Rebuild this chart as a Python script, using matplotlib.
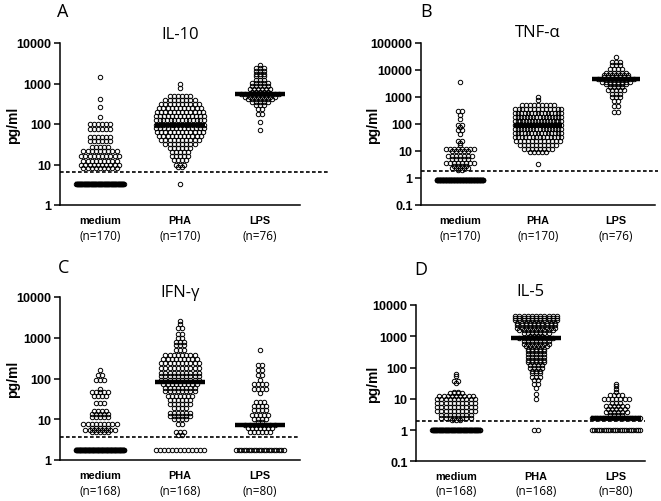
import numpy as np
import matplotlib.pyplot as plt
from matplotlib.ticker import FixedLocator, NullLocator, FuncFormatter

groups = ["medium", "PHA", "LPS"]

# each group: dot rows read off the swarm (pg/ml) and number of dots on that row
# --- A: IL-10
il10_med_vals = [1450, 415, 265, 150, 100, 75, 48, 38, 27, 21, 16, 12, 9.5, 8, 3.3]
il10_med_cnts = [1, 1, 1, 1, 6, 6, 6, 6, 5, 9, 10, 9, 10, 9, 90]
il10_pha_vals = [1000, 770, 500, 400, 320, 250, 200, 160, 125, 95, 80, 63, 50, 40,
                 32, 25, 20, 16, 13, 10, 8.7, 3.3]
il10_pha_cnts = [1, 1, 6, 8, 10, 11, 12, 13, 14, 14, 13, 12, 11, 10, 8, 6, 5, 5, 4, 3, 2, 1]
il10_lps_vals = [2900, 2350, 2000, 1700, 1500, 1250, 1050, 880, 730, 630, 550, 470, 410,
                 350, 290, 230, 180, 112, 72]
il10_lps_cnts = [1, 3, 3, 3, 3, 3, 5, 5, 6, 5, 10, 8, 7, 5, 3, 2, 2, 1, 1]
il10_n = [170, 170, 76]

# --- B: TNF-alpha
tnf_med_vals = [3500, 300, 215, 155, 93, 76, 60, 42, 24, 20, 17, 12, 10, 6.5, 5, 3.6,
                2.9, 2.3, 2.0, 0.85]
tnf_med_cnts = [1, 2, 1, 1, 2, 1, 2, 1, 2, 1, 1, 8, 5, 7, 5, 8, 4, 5, 2, 111]
tnf_pha_vals = [1000, 780, 500, 370, 260, 185, 130, 95, 68, 48, 34, 24, 17, 12, 9, 3.3]
tnf_pha_cnts = [1, 1, 9, 13, 15, 16, 17, 17, 16, 15, 14, 12, 10, 8, 5, 1]
tnf_lps_vals = [31000, 20000, 15000, 11000, 8000, 6500, 5500, 4500, 3700, 3000, 2300,
                1800, 1300, 1000, 720, 480, 290]
tnf_lps_cnts = [1, 3, 3, 4, 6, 7, 7, 10, 8, 6, 4, 5, 3, 3, 2, 2, 2]
tnf_n = [170, 170, 76]

# --- C: IFN-gamma
ifn_med_vals = [165, 123, 90, 55, 46, 38, 25, 16, 13.5, 11.5, 7.5, 6.2, 5.4, 4.8, 1.8]
ifn_med_cnts = [1, 2, 3, 1, 5, 4, 3, 4, 5, 5, 9, 5, 8, 5, 108]
ifn_pha_vals = [2600, 2200, 1700, 1250, 1000, 800, 650, 500, 370, 300, 240, 180, 140,
                115, 90, 75, 60, 48, 38, 30, 24, 19, 14, 12, 10, 7.5, 5, 4, 1.8]
ifn_pha_cnts = [1, 1, 2, 2, 2, 3, 3, 3, 8, 9, 10, 10, 10, 10, 10, 9, 8, 8, 7, 6, 6, 4,
                6, 6, 4, 2, 3, 2, 13]
ifn_lps_vals = [500, 210, 160, 120, 90, 72, 55, 45, 27, 21, 17, 13, 10, 8.5, 7.4, 6.2, 5, 1.8]
ifn_lps_cnts = [1, 2, 2, 2, 1, 4, 4, 1, 3, 4, 4, 5, 4, 2, 8, 7, 6, 20]
ifn_n = [168, 168, 80]

# --- D: IL-5
il5_med_vals = [60, 55, 38, 33, 17, 15, 12.5, 10, 7.5, 5.5, 4, 3, 2.4, 2.1, 1.0]
il5_med_cnts = [1, 1, 2, 1, 2, 4, 9, 10, 10, 10, 10, 8, 8, 3, 89]
il5_pha_vals = [4300, 3700, 3200, 2700, 2300, 1900, 1600, 1300, 1050, 850, 700, 580,
                480, 400, 330, 270, 220, 180, 150, 120, 100, 80, 65, 50, 40, 30, 22,
                14, 10, 1.0]
il5_pha_cnts = [11, 11, 11, 10, 10, 10, 9, 7, 4, 9, 7, 7, 6, 5, 5, 5, 5, 5, 5, 4, 4,
                3, 3, 3, 2, 2, 1, 1, 1, 2]
il5_lps_vals = [30, 25, 20, 16, 13, 10, 7.5, 6, 4.7, 3.7, 3, 2.4, 1.0]
il5_lps_cnts = [1, 1, 1, 1, 4, 7, 3, 6, 5, 6, 4, 19, 22]
il5_n = [168, 168, 80]

lod = [6.5, 1.75, 3.6, 2.0]

BOLD = "Liberation Sans"
LIGHT = "Open Sans"

fig = plt.figure(figsize=(6.61, 5.02), dpi=100)


def spread(center, counts, step=0.052, half=0.3):
    xs = []
    for n in counts:
        s = step if n < 2 else min(step, 2 * half / (n - 1))
        xs.extend(center + (np.arange(n) - (n - 1) / 2) * s)
    return np.array(xs)


def fmt(v, pos):
    return f"{v:.0f}" if v >= 1 else f"{v:g}"


def panel(rect, data, ns, ylim, xmax, cutoff, dash_end, title, title_y, letter, letter_xy,
          ylab_x):
    ax = fig.add_axes(rect)
    for i, (vals, cnts) in enumerate(data):
        x = i + 1
        y = np.repeat(vals, cnts)
        ax.plot(spread(x, cnts), y, "o", ms=3.2, mfc="none", mec="black", mew=0.7,
                clip_on=False)
        ax.plot([x - 0.31, x + 0.31], [np.median(y)] * 2, color="black", lw=3.2,
                solid_capstyle="butt")
    ax.plot([0.5, dash_end], [cutoff, cutoff], color="black", lw=1.2,
            ls=(0, (2.2, 1.4)), clip_on=False)
    ax.set_yscale("log")
    ax.set_ylim(*ylim)
    ax.set_xlim(0.5, xmax)
    decades = 10.0 ** np.arange(np.log10(ylim[0]), np.log10(ylim[1]) + 0.5)
    ax.yaxis.set_major_locator(FixedLocator(decades))
    ax.yaxis.set_minor_locator(NullLocator())
    ax.yaxis.set_major_formatter(FuncFormatter(fmt))
    ax.set_xticks([1, 2, 3])
    ax.set_xticklabels(groups, fontfamily=BOLD, fontweight="bold", fontsize=7.8)
    for t in ax.get_yticklabels():
        t.set_fontfamily(BOLD)
        t.set_fontweight("bold")
        t.set_fontsize(9)
    ax.tick_params(axis="x", length=0, pad=7)
    ax.tick_params(axis="y", length=4, width=1.1, pad=2)
    for s in ["top", "right"]:
        ax.spines[s].set_visible(False)
    for s in ["left", "bottom"]:
        ax.spines[s].set_linewidth(1.1)
    ax.set_ylabel("pg/ml", fontfamily=BOLD, fontweight="bold", fontsize=10)
    ax.yaxis.set_label_coords(ylab_x, 0.5)
    for i, n in enumerate(ns):
        ax.text(i + 1, -0.19, f"(n={n})", transform=ax.get_xaxis_transform(),
                ha="center", va="center", fontfamily=LIGHT, fontsize=8.5)
    ax.text(0.5 * (0.5 + xmax), title_y, title, transform=ax.get_xaxis_transform(),
            ha="center", va="center", fontfamily=LIGHT, fontsize=12)
    fig.text(letter_xy[0] / 661, 1 - letter_xy[1] / 502, letter, ha="left", va="center",
             fontfamily=LIGHT, fontsize=13)
    return ax


panel([60 / 661, 296 / 502, 240 / 661, 162 / 502],
      [(il10_med_vals, il10_med_cnts), (il10_pha_vals, il10_pha_cnts),
       (il10_lps_vals, il10_lps_cnts)],
      il10_n, (1, 10000), 3.5, lod[0], 3.85, "IL-10", 1.055, "A", (57, 12), -0.165)

panel([421 / 661, 296 / 502, 234 / 661, 162 / 502],
      [(tnf_med_vals, tnf_med_cnts), (tnf_pha_vals, tnf_pha_cnts),
       (tnf_lps_vals, tnf_lps_cnts)],
      tnf_n, (0.1, 100000), 3.5, lod[1], 3.54, "TNF-α", 1.068, "B", (420, 12), -0.175)

panel([60 / 661, 41 / 502, 240 / 661, 163 / 502],
      [(ifn_med_vals, ifn_med_cnts), (ifn_pha_vals, ifn_pha_cnts),
       (ifn_lps_vals, ifn_lps_cnts)],
      ifn_n, (1, 10000), 3.5, lod[2], 3.5, "IFN-γ", 1.03, "C", (58, 268), -0.165)

panel([416 / 661, 39.7 / 502, 229 / 661, 156.3 / 502],
      [(il5_med_vals, il5_med_cnts), (il5_pha_vals, il5_pha_cnts),
       (il5_lps_vals, il5_lps_cnts)],
      il5_n, (0.1, 10000), 3.36, lod[3], 3.36, "IL-5", 1.09, "D", (414, 270), -0.157)

fig.savefig("out.png", dpi=100)
